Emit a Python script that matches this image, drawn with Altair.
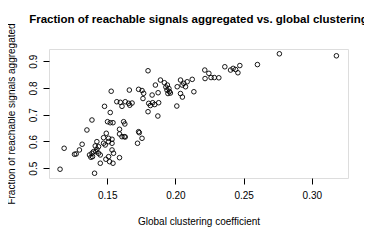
import altair as alt
import pandas as pd

clustering = [
    0.1154, 0.1407, 0.1184, 0.1272, 0.1260, 0.1296, 0.1316, 0.1351, 0.1388, 0.1424,
    0.1399, 0.1388, 0.1370, 0.1380, 0.1392, 0.1417, 0.1436, 0.1449, 0.1424, 0.1412,
    0.1436, 0.1473, 0.1485, 0.1510, 0.1535, 0.1473, 0.1510, 0.1535, 0.1493, 0.1535,
    0.1546, 0.1510, 0.1490, 0.1517, 0.1542, 0.1590, 0.1449, 0.1502, 0.1522, 0.1542,
    0.1620, 0.1629, 0.1590, 0.1590, 0.1608, 0.1625, 0.1632, 0.1730, 0.1735, 0.1755,
    0.1722, 0.1522, 0.1799, 0.1871, 0.1480, 0.1529, 0.1662, 0.1570, 0.1596, 0.1632,
    0.1657, 0.1682, 0.1608, 0.1665, 0.1730, 0.1755, 0.1767, 0.1762, 0.1829, 0.1873,
    0.1804, 0.1833, 0.1848, 0.1877, 0.1816, 0.1853, 0.1799, 0.1890, 0.1919, 0.1941,
    0.1930, 0.1952, 0.1938, 0.1956, 0.1963, 0.1945, 0.2037, 0.2061, 0.2086, 0.2123,
    0.2074, 0.2049, 0.2135, 0.2013, 0.2037, 0.2051, 0.2010, 0.2215, 0.2245, 0.2217,
    0.2261, 0.2285, 0.2318, 0.2362, 0.2404, 0.2423, 0.2441, 0.2472, 0.2458, 0.2601,
    0.2762, 0.3180,
]
fraction = [
    0.4963, 0.4813, 0.5746, 0.5534, 0.5522, 0.5683, 0.5896, 0.6429, 0.6802, 0.5709,
    0.5619, 0.5560, 0.5496, 0.5410, 0.5433, 0.5619, 0.5560, 0.5496, 0.5993, 0.5832,
    0.5806, 0.5933, 0.5869, 0.5993, 0.5933, 0.6142, 0.6119, 0.6082, 0.6306, 0.5683,
    0.5560, 0.5433, 0.5336, 0.5246, 0.5187, 0.5395, 0.5187, 0.6739, 0.6701, 0.6701,
    0.6739, 0.6653, 0.6455, 0.6280, 0.6179, 0.6179, 0.6168, 0.6366, 0.6328, 0.6119,
    0.5933, 0.7082, 0.7112, 0.6951, 0.7313, 0.7877, 0.7921, 0.7485, 0.7463, 0.7485,
    0.7425, 0.7436, 0.7313, 0.7354, 0.7948, 0.7903, 0.7799, 0.7604, 0.7735, 0.7821,
    0.7425, 0.7448, 0.7380, 0.7448, 0.7343, 0.8108, 0.8642, 0.8295, 0.8194, 0.8108,
    0.8033, 0.7977, 0.7921, 0.7866, 0.7809, 0.7791, 0.8295, 0.8172, 0.8231, 0.8321,
    0.8045, 0.8108, 0.7858, 0.8045, 0.7791, 0.7660, 0.7324, 0.8668, 0.8545, 0.8351,
    0.8388, 0.8388, 0.8380, 0.8791, 0.8668, 0.8731, 0.8687, 0.8836, 0.8567, 0.8873,
    0.9276, 0.9201,
]
x_ticks = [0.15, 0.20, 0.25, 0.30]
y_ticks = [0.5, 0.6, 0.7, 0.8, 0.9]

df = pd.DataFrame({"x": clustering, "y": fraction})

FONT = "Liberation Sans"

chart = (
    alt.Chart(df)
    .mark_point(shape="circle", filled=False, color="black", size=21, strokeWidth=0.9, opacity=1)
    .encode(
        x=alt.X(
            "x:Q",
            scale=alt.Scale(domain=[0.1073, 0.3265], nice=False, zero=False),
            axis=alt.Axis(
                values=x_ticks, format=".2f", title="Global clustering coefficient",
                grid=False, domain=False, tickSize=6, tickColor="black",
                labelPadding=6, labelFontSize=10, labelColor="black", labelFont=FONT,
                titleFontSize=10, titleFont=FONT, titleFontWeight="normal",
                titleColor="black", titlePadding=16,
            ),
        ),
        y=alt.Y(
            "y:Q",
            scale=alt.Scale(domain=[0.4635, 0.9455], nice=False, zero=False),
            axis=alt.Axis(
                values=y_ticks, format=".1f", title="Fraction of reachable signals aggregated",
                grid=False, domain=False, tickSize=6, tickColor="black",
                labelAngle=-90, labelAlign="center", labelBaseline="bottom",
                labelPadding=5, labelFontSize=10, labelColor="black", labelFont=FONT,
                titleFontSize=10, titleFont=FONT, titleFontWeight="normal",
                titleColor="black", titlePadding=12,
            ),
        ),
    )
    .properties(
        width=299,
        height=129,
        autosize="none",
        padding={"left": 41, "top": 41, "right": 16, "bottom": 54},
        title=alt.TitleParams(
            "Fraction of reachable signals aggregated vs. global clustering",
            font=FONT, fontSize=11.5, fontWeight="bold", color="black",
            anchor="middle", offset=-3, frame="group", limit=420,
        ),
    )
    .configure_view(stroke="black", strokeWidth=1)
    .configure(background="white")
)

chart.save("out.html", embed_options={"renderer": "svg", "actions": False})
